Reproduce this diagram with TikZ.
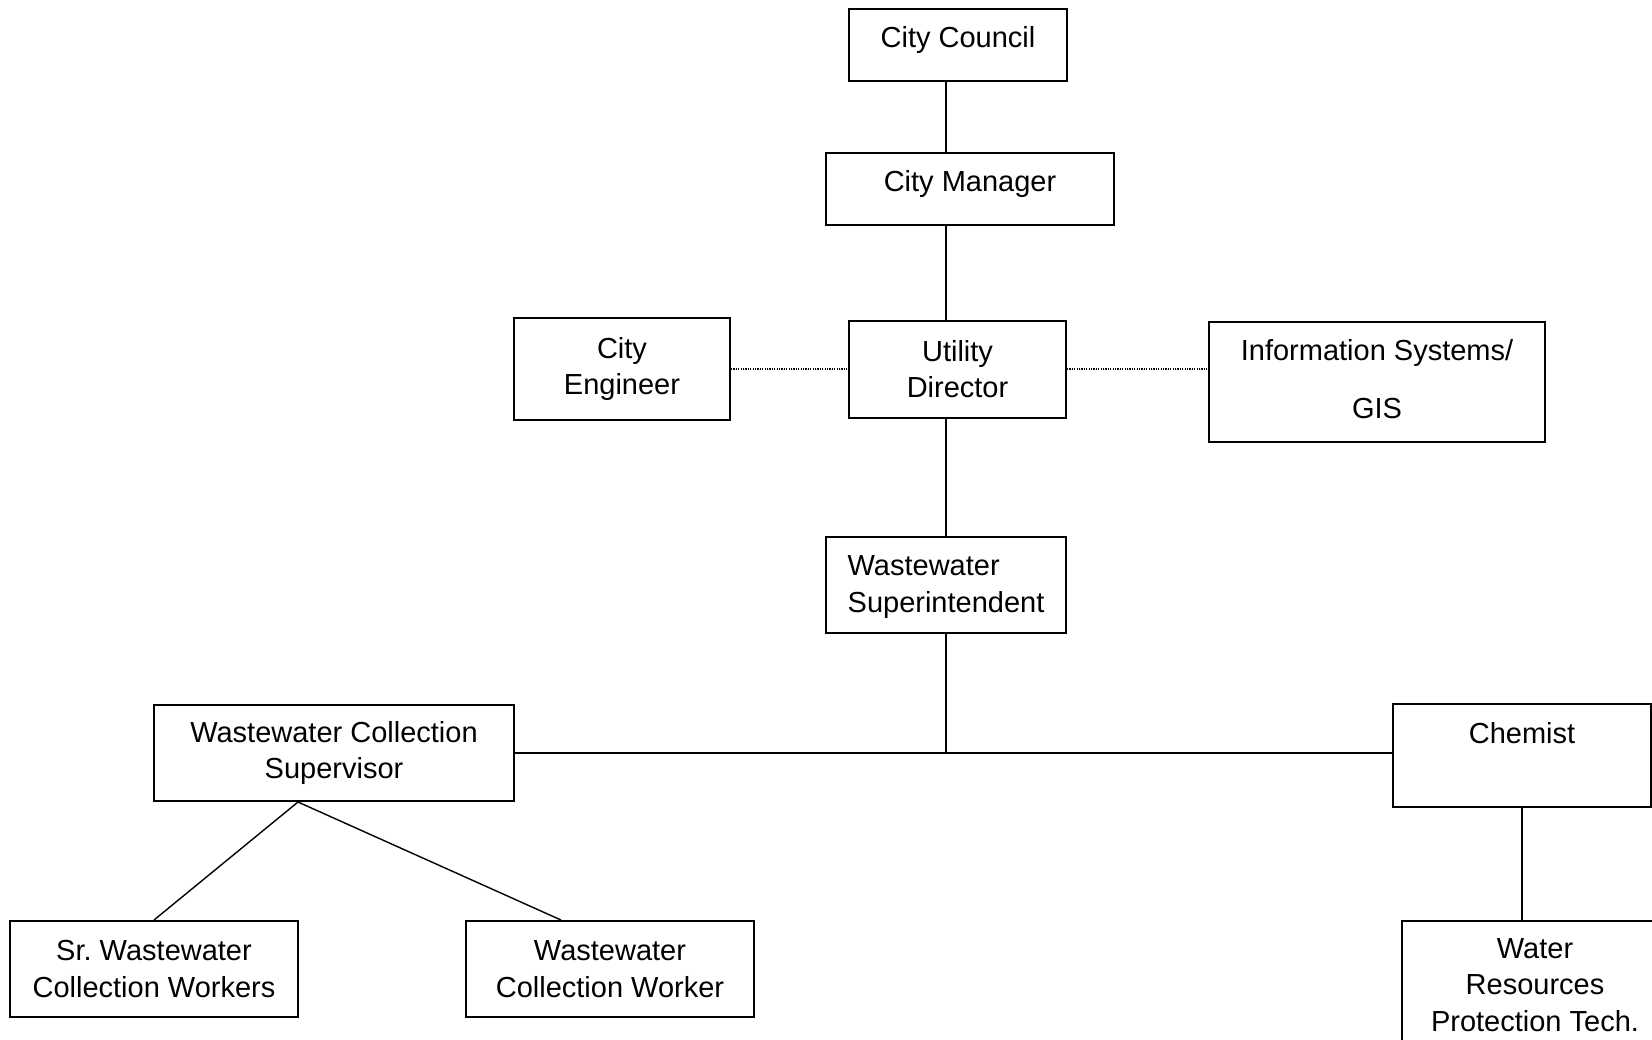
\documentclass[tikz,border=0pt]{standalone}
\usepackage{fontspec}
\setmainfont{Liberation Sans}
\usepackage{tikz}
\usetikzlibrary{arrows}
\usetikzlibrary{calc}

\tikzset{
  post/.style={draw=black, line width=1pt, inner sep=0pt, align=center,
    font=\fontsize{14.5pt}{18.25pt}\selectfont},
  dims/.style 2 args={minimum width=#1*0.5pt, minimum height=#2*0.5pt},
  toptext/.style={text height=10.5pt, text depth=#1},
  lift/.style={text depth=#1},
  link/.style={line width=1pt},
  slant/.style={line width=0.7pt},
  staff/.style={line width=0.6pt, dash pattern=on 0.6pt off 0.6pt}
}

\begin{document}
\begin{tikzpicture}[x=0.5pt,y=-0.5pt]
\useasboundingbox (0,0) rectangle (1652,1039);
\clip (0,0) rectangle (1652,1039);
%% chain of command
\node[post,dims={218}{72},toptext=8.5pt] (council) at (958,45) {City Council};
\node[post,dims={288}{72},toptext=8.5pt] (manager) at (970,189) {City Manager};
\node[post,dims={217}{97}] (director) at (957.5,369) {Utility\\Director};
\node[post,dims={216}{102}] (engineer) at (622,369) {City\\Engineer};
\node[post,dims={336}{120},lift=3pt] (infosys) at (1377,382) {Information Systems/\\[10.75pt]GIS};
\node[post,dims={240}{96},align=left,lift=1pt] (super) at (946,585) {Wastewater\\Superintendent};
%% field staff
\node[post,dims={360}{96}] (wcsup) at (334,753) {Wastewater Collection\\Supervisor};
\node[post,dims={258}{103},toptext=22.5pt] (chemist) at (1522,755.5) {Chemist};
\node[post,dims={288}{96}] (senior) at (154,969) {Sr.\ Wastewater\\Collection Workers};
\node[post,dims={288}{96}] (worker) at (610,969) {Wastewater\\Collection Worker};
\node[post,dims={266}{128}] (water) at (1535,985) {Water\\Resources\\Protection Tech.};

\foreach \a/\b in {council/manager, manager/director, director/super}
  \draw[link] (\a.south -| super.center) -- (\b.north -| super.center);
\draw[link] (super.south) -- (super.south |- wcsup.east);
\draw[link] (wcsup.east) -- (wcsup.east -| chemist.west);
\draw[link] (chemist.south) -- (chemist.south |- water.north);
\draw[slant] ([xshift=-18pt]wcsup.south) -- (senior.north);
\draw[slant] ([xshift=-18pt]wcsup.south) -- ([xshift=-24.5pt]worker.north);
%% dotted staff lines
\draw[staff] (engineer.east) -- (director.west);
\draw[staff] (director.east) -- (director.east -| infosys.west);
\end{tikzpicture}
\end{document}
